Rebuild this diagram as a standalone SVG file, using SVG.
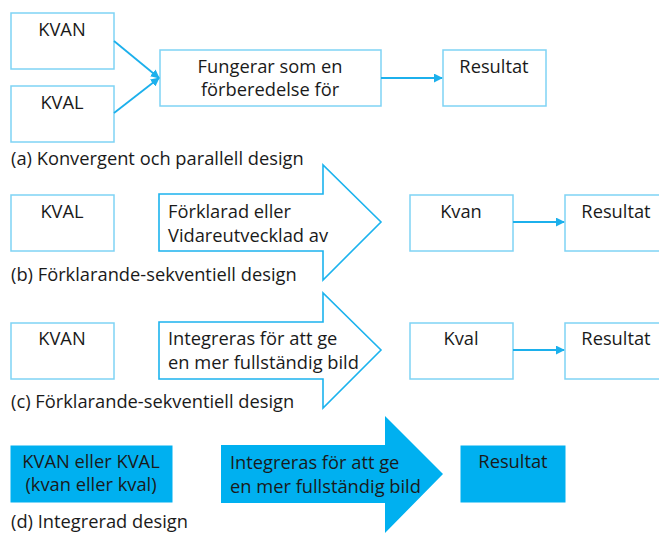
<svg xmlns="http://www.w3.org/2000/svg" width="659" height="533" viewBox="0 0 659 533">
<style>
text{font-family:"Open Sans","Liberation Sans",sans-serif;font-size:18.3px;fill:#1a1a1a}
.c{text-anchor:middle}
.box{fill:#fff;stroke:#7fd3f5;stroke-width:1.5}
.fbox{fill:#00b0f0;stroke:#00b0f0;stroke-width:1}
.big{fill:#fff;stroke:#1cb3ee;stroke-width:1.6;stroke-linejoin:miter}
.bigf{fill:#00b0f0;stroke:none}
.con{stroke:#1cb0ec;stroke-width:1.8;fill:none;marker-end:url(#ah)}
</style>
<defs>
<marker id="ah" viewBox="0 0 10 10" refX="9" refY="5" markerWidth="5" markerHeight="5" orient="auto" markerUnits="strokeWidth"><path d="M0,0L10,5L0,10z" fill="#1cb0ec"/></marker>
</defs>
<rect width="659" height="533" fill="#fff"/>
<g id="a-kvan"><rect class="box" x="11" y="13" width="103" height="56"/><text class="c" x="62" y="36">KVAN</text></g>
<g id="a-kval"><rect class="box" x="11" y="86" width="103" height="56"/><text class="c" x="62" y="109">KVAL</text></g>
<g id="a-mid"><rect class="box" x="160" y="50" width="221" height="56"/><text class="c" x="270" y="73">Fungerar som en</text><text class="c" x="270" y="96">förberedelse för</text></g>
<g id="a-res"><rect class="box" x="443" y="50" width="103" height="56"/><text class="c" x="494" y="73">Resultat</text></g>
<text x="11" y="165">(a) Konvergent och parallell design</text>

<g id="b-kval"><rect class="box" x="11" y="195" width="103" height="56"/><text class="c" x="62" y="218">KVAL</text></g>
<g id="b-arrow"><path class="big" d="M159,194H323V165L381,222L323,280V251H159Z"/><text x="168" y="218">Förklarad eller</text><text x="168" y="242">Vidareutvecklad av</text></g>
<g id="b-kvan"><rect class="box" x="410" y="195" width="103" height="56"/><text class="c" x="461" y="218">Kvan</text></g>
<g id="b-res"><rect class="box" x="565" y="195" width="103" height="56"/><text class="c" x="616" y="218">Resultat</text></g>
<text x="11" y="281">(b) Förklarande-sekventiell design</text>

<g id="c-kvan"><rect class="box" x="11" y="323" width="103" height="56"/><text class="c" x="62" y="345">KVAN</text></g>
<g id="c-arrow"><path class="big" d="M159,322H323V293L381,350L323,408V379H159Z"/><text x="168" y="345">Integreras för att ge</text><text x="168" y="369">en mer fullständig bild</text></g>
<g id="c-kval"><rect class="box" x="410" y="323" width="103" height="56"/><text class="c" x="461" y="345">Kval</text></g>
<g id="c-res"><rect class="box" x="565" y="323" width="103" height="56"/><text class="c" x="616" y="345">Resultat</text></g>
<text x="11" y="408">(c) Förklarande-sekventiell design</text>

<g id="d-src"><rect class="fbox" x="11" y="446" width="161" height="56"/><text class="c" x="91" y="468">KVAN eller KVAL</text><text class="c" x="91" y="491">(kvan eller kval)</text></g>
<g id="d-arrow"><path class="bigf" d="M221,445H385V416L443,474L385,533V503H221Z"/><text x="230" y="469">Integreras för att ge</text><text x="230" y="493">en mer fullständig bild</text></g>
<g id="d-res"><rect class="fbox" x="461" y="446" width="104" height="56"/><text class="c" x="513" y="468">Resultat</text></g>
<text x="11" y="528">(d) Integrerad design</text>

<g id="connectors">
<line class="con" x1="114" y1="41" x2="159" y2="78"/>
<line class="con" x1="114" y1="113" x2="159" y2="78"/>
<line class="con" x1="381" y1="78" x2="442" y2="78"/>
<line class="con" x1="513" y1="222" x2="564" y2="222"/>
<line class="con" x1="513" y1="350" x2="564" y2="350"/>
</g>
</svg>
